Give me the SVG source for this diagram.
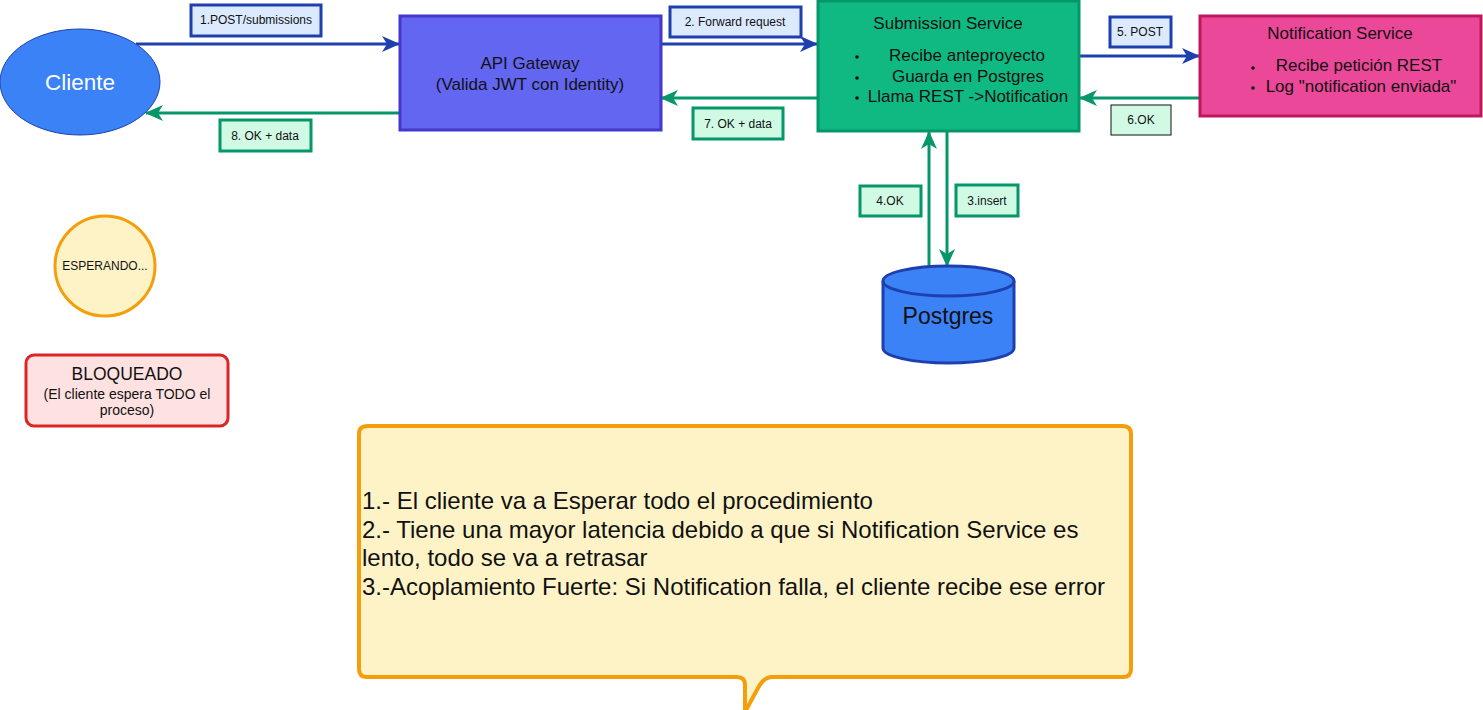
<svg xmlns="http://www.w3.org/2000/svg" width="1483" height="710" viewBox="0 0 1483 710">
<style>
text{font-family:"Liberation Sans",Arial,sans-serif;fill:#111}
.lblB{fill:#dbeafe;stroke:#1e40af;stroke-width:3}
.lblG{fill:#d1fae5;stroke:#059669;stroke-width:3}
.cB{stroke:#1e40af;stroke-width:3;fill:none}
.cG{stroke:#059669;stroke-width:3;fill:none}
.s12{font-size:12px}
.s17{font-size:17px}
</style>
<defs>
<marker id="ab" viewBox="0 0 18 16" refX="17" refY="8" markerWidth="18" markerHeight="16" markerUnits="userSpaceOnUse" orient="auto">
<path d="M0,0 L18,8 L0,16 L5,8 Z" fill="#1e40af"/>
</marker>
<marker id="ag" viewBox="0 0 18 16" refX="17" refY="8" markerWidth="18" markerHeight="16" markerUnits="userSpaceOnUse" orient="auto">
<path d="M0,0 L18,8 L0,16 L5,8 Z" fill="#059669"/>
</marker>
</defs>

<g id="connectors">
<line class="cB" x1="136" y1="44" x2="399" y2="44" marker-end="url(#ab)"/>
<line class="cB" x1="661" y1="44" x2="817" y2="44" marker-end="url(#ab)"/>
<line class="cB" x1="1079" y1="56" x2="1199" y2="56" marker-end="url(#ab)"/>
<line class="cG" x1="1200" y1="98" x2="1080" y2="98" marker-end="url(#ag)"/>
<line class="cG" x1="818" y1="98" x2="661" y2="98" marker-end="url(#ag)"/>
<line class="cG" x1="400" y1="113" x2="146" y2="113" marker-end="url(#ag)"/>
<line class="cG" x1="947" y1="131" x2="947" y2="266" marker-end="url(#ag)"/>
<line class="cG" x1="929" y1="266" x2="929" y2="132" marker-end="url(#ag)"/>
</g>

<g id="lbl1"><rect class="lblB" x="191" y="5" width="130" height="31"/><text class="s12" x="256" y="24" text-anchor="middle">1.POST/submissions</text></g>
<g id="lbl2"><rect class="lblB" x="670" y="7" width="131" height="30"/><text class="s12" x="735" y="26" text-anchor="middle">2. Forward request</text></g>
<g id="lbl5"><rect class="lblB" x="1110" y="17" width="61" height="30"/><text class="s12" x="1140" y="36" text-anchor="middle">5. POST</text></g>
<g id="lbl6"><rect x="1111" y="105" width="60" height="30" fill="#d1fae5" stroke="#111" stroke-width="1"/><text class="s12" x="1141" y="124" text-anchor="middle">6.OK</text></g>
<g id="lbl7"><rect class="lblG" x="693" y="108" width="90" height="31"/><text class="s12" x="738" y="128" text-anchor="middle">7. OK + data</text></g>
<g id="lbl8"><rect class="lblG" x="220" y="120" width="91" height="31"/><text class="s12" x="265" y="140" text-anchor="middle">8. OK + data</text></g>
<g id="lbl4"><rect class="lblG" x="860" y="186" width="61" height="30"/><text class="s12" x="890" y="205" text-anchor="middle">4.OK</text></g>
<g id="lbl3"><rect class="lblG" x="956" y="185" width="62" height="31"/><text class="s12" x="987" y="205" text-anchor="middle">3.insert</text></g>

<g id="cliente">
<ellipse cx="80" cy="82" rx="80" ry="53" fill="#3b82f6" stroke="#1e40af" stroke-width="1"/>
<text x="80" y="90" text-anchor="middle" font-size="22.5" style="fill:#fff">Cliente</text>
</g>

<g id="gateway">
<rect x="400" y="16" width="261" height="114" fill="#6366f1" stroke="#4338ca" stroke-width="3"/>
<text x="530" y="69" text-anchor="middle" class="s17">API Gateway</text>
<text x="530" y="90" text-anchor="middle" class="s17">(Valida JWT con Identity)</text>
</g>

<g id="submission">
<rect x="818" y="1" width="261" height="130" fill="#10b981" stroke="#059669" stroke-width="3"/>
<text x="948" y="29" text-anchor="middle" class="s17">Submission Service</text>
<circle cx="857" cy="57" r="1.8" fill="#111"/>
<circle cx="857" cy="78" r="1.8" fill="#111"/>
<circle cx="857" cy="98" r="1.8" fill="#111"/>
<text x="967" y="61" text-anchor="middle" class="s17">Recibe anteproyecto</text>
<text x="968" y="82" text-anchor="middle" class="s17">Guarda en Postgres</text>
<text x="968" y="102" text-anchor="middle" class="s17">Llama REST -&gt;Notification</text>
</g>

<g id="notification">
<rect x="1200" y="16" width="281" height="100" fill="#ec4899" stroke="#be185d" stroke-width="3"/>
<text x="1340" y="39" text-anchor="middle" class="s17">Notification Service</text>
<circle cx="1253" cy="68" r="1.8" fill="#111"/>
<circle cx="1253" cy="88" r="1.8" fill="#111"/>
<text x="1359" y="71" text-anchor="middle" class="s17">Recibe petición REST</text>
<text x="1361" y="92" text-anchor="middle" class="s17">Log "notification enviada"</text>
</g>

<g id="postgres">
<path d="M883,281 A65.5,15 0 0 1 1014,281 L1014,348 A65.5,15 0 0 1 883,348 Z" fill="#3b82f6" stroke="#1e40af" stroke-width="3"/>
<path d="M883,281 A65.5,15 0 0 0 1014,281" fill="none" stroke="#1e40af" stroke-width="3"/>
<text x="948" y="324" text-anchor="middle" font-size="23">Postgres</text>
</g>

<g id="esperando">
<circle cx="105" cy="266" r="50" fill="#fef3c7" stroke="#f59e0b" stroke-width="3"/>
<text x="105" y="270" text-anchor="middle" font-size="12">ESPERANDO...</text>
</g>

<g id="bloqueado">
<rect x="26" y="355" width="202" height="71" rx="8" fill="#fee2e2" stroke="#dc2626" stroke-width="3"/>
<text x="127" y="380" text-anchor="middle" font-size="17.5">BLOQUEADO</text>
<text x="127" y="399" text-anchor="middle" font-size="14">(El cliente espera TODO el</text>
<text x="127" y="415" text-anchor="middle" font-size="14">proceso)</text>
</g>

<g id="callout">
<path d="M367,426 L1123,426 Q1131,426 1131,434 L1131,669 Q1131,677 1123,677 L772,677 Q764,677 758,688 L745,712 L745,685 Q745,677 737,677 L367,677 Q359,677 359,669 L359,434 Q359,426 367,426 Z" fill="#fef3c7" stroke="#f59e0b" stroke-width="4"/>
<text font-size="24" x="362">
<tspan x="362" y="509">1.- El cliente va a Esperar todo el procedimiento</tspan>
<tspan x="362" y="538">2.- Tiene una mayor latencia debido a que si Notification Service es</tspan>
<tspan x="362" y="566">lento, todo se va a retrasar</tspan>
<tspan x="362" y="595">3.-Acoplamiento Fuerte: Si Notification falla, el cliente recibe ese error</tspan>
</text>
</g>
</svg>
